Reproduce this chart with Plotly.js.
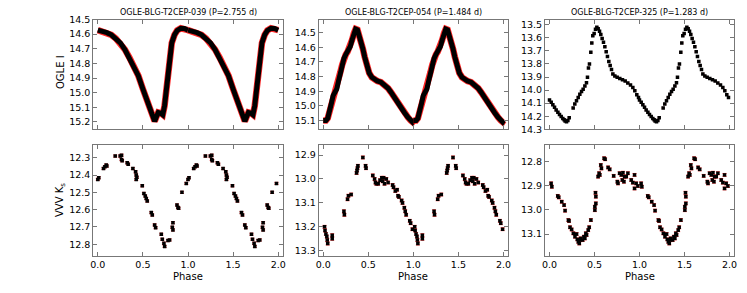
<!DOCTYPE html>
<html>
<head>
<meta charset="utf-8">
<script src="https://cdn.plot.ly/plotly-3.0.1.min.js"></script>
<style>html,body{margin:0;padding:0;background:#fff;}#chart{width:747px;height:293px;}</style>
</head>
<body>
<div id="chart"></div>
<script>
// ---------- DATA (one pulsation cycle each; the chart shows phase 0..2) ----------
const titles = ["OGLE-BLG-T2CEP-039 (P=2.755 d)", "OGLE-BLG-T2CEP-054 (P=1.484 d)", "OGLE-BLG-T2CEP-325 (P=1.283 d)"];

// OGLE I light curves
const i039Phase = [0.00,0.05,0.10,0.15,0.20,0.25,0.30,0.35,0.40,0.45,0.50,0.55,0.58,0.61,0.63,0.65,0.67,0.70,0.72,0.74,0.76,0.78,0.80,0.82,0.85,0.88,0.92,0.96];
const i039Mag   = [14.573,14.580,14.590,14.605,14.630,14.660,14.705,14.760,14.820,14.885,14.975,15.060,15.110,15.170,15.195,15.165,15.135,15.140,15.150,15.090,14.980,14.850,14.730,14.660,14.605,14.575,14.560,14.562];

const i054Phase = [0.00,0.03,0.05,0.07,0.09,0.11,0.13,0.15,0.17,0.19,0.21,0.23,0.25,0.27,0.30,0.32,0.34,0.36,0.38,0.40,0.42,0.44,0.46,0.48,0.51,0.54,0.57,0.60,0.64,0.68,0.72,0.75,0.79,0.83,0.86,0.90,0.94,0.97,0.99];
const i054Mag   = [15.100,15.100,15.085,15.045,14.985,14.930,14.905,14.885,14.830,14.770,14.720,14.675,14.650,14.630,14.595,14.550,14.505,14.475,14.480,14.515,14.560,14.610,14.665,14.720,14.775,14.805,14.820,14.830,14.838,14.855,14.880,14.905,14.945,14.980,15.010,15.045,15.078,15.100,15.110];

const i325Phase = [0.000,0.019,0.037,0.056,0.074,0.093,0.111,0.130,0.148,0.163,0.174,0.189,0.204,0.219,0.263,0.281,0.300,0.319,0.337,0.356,0.374,0.393,0.411,0.422,0.433,0.444,0.459,0.470,0.481,0.496,0.511,0.526,0.541,0.556,0.570,0.585,0.600,0.615,0.630,0.644,0.659,0.674,0.689,0.704,0.726,0.752,0.781,0.811,0.841,0.870,0.900,0.926,0.948,0.970,0.989];
const i325Mag   = [14.076,14.094,14.112,14.132,14.152,14.169,14.187,14.202,14.217,14.227,14.237,14.242,14.232,14.212,14.137,14.107,14.081,14.056,14.031,14.011,13.994,13.969,13.944,13.901,13.831,13.801,13.711,13.640,13.585,13.568,13.535,13.520,13.530,13.550,13.575,13.605,13.635,13.668,13.706,13.743,13.781,13.811,13.843,13.876,13.893,13.901,13.911,13.921,13.931,13.946,13.961,13.981,14.006,14.036,14.056];

// VVV Ks light curves
const k039Phase = [0.000,0.011,0.063,0.078,0.093,0.100,0.193,0.248,0.263,0.263,0.270,0.326,0.337,0.389,0.419,0.426,0.433,0.426,0.493,0.511,0.526,0.537,0.548,0.593,0.604,0.630,0.641,0.704,0.715,0.733,0.741,0.778,0.796,0.826,0.833,0.833,0.878,0.889,0.896,0.933,0.981];
const k039Mag   = [12.425,12.415,12.362,12.352,12.342,12.348,12.290,12.290,12.285,12.310,12.317,12.329,12.337,12.362,12.381,12.400,12.413,12.425,12.462,12.506,12.521,12.535,12.550,12.617,12.631,12.688,12.704,12.742,12.771,12.794,12.813,12.779,12.775,12.702,12.717,12.675,12.573,12.587,12.592,12.500,12.448];

const k054Phase = [0.015,0.020,0.030,0.040,0.045,0.050,0.100,0.100,0.230,0.235,0.270,0.280,0.310,0.370,0.375,0.380,0.385,0.440,0.470,0.475,0.550,0.570,0.580,0.590,0.610,0.630,0.650,0.660,0.670,0.680,0.700,0.720,0.770,0.780,0.800,0.820,0.830,0.840,0.870,0.880,0.900,0.910,0.920,0.960,0.970,0.990];
const k054Mag   = [13.200,13.215,13.230,13.240,13.255,13.270,13.235,13.250,13.135,13.150,13.085,13.070,13.065,12.975,12.965,12.955,12.945,12.910,12.945,12.955,12.985,13.000,13.015,13.020,13.020,13.005,12.995,13.010,12.995,13.020,13.000,13.015,13.025,13.035,13.050,13.045,13.070,13.075,13.090,13.100,13.120,13.135,13.150,13.175,13.185,13.210];

const k325Phase = [0.018,0.026,0.092,0.103,0.136,0.162,0.173,0.210,0.217,0.228,0.246,0.265,0.283,0.301,0.309,0.320,0.338,0.346,0.331,0.368,0.382,0.393,0.404,0.412,0.430,0.441,0.460,0.504,0.504,0.515,0.515,0.511,0.540,0.551,0.559,0.570,0.577,0.607,0.618,0.651,0.669,0.713,0.754,0.761,0.779,0.798,0.816,0.835,0.809,0.827,0.853,0.871,0.908,0.926,0.945,0.945,0.963,0.982];
const k325Mag   = [12.890,12.904,12.942,12.948,12.966,12.980,13.003,13.042,13.046,13.072,13.081,13.097,13.111,13.100,13.122,13.132,13.125,13.118,13.139,13.125,13.111,13.118,13.097,13.104,13.084,13.072,13.042,12.987,13.001,12.973,12.945,12.929,12.862,12.848,12.855,12.814,12.828,12.786,12.790,12.824,12.832,12.859,12.883,12.890,12.848,12.855,12.846,12.862,12.876,12.883,12.862,12.848,12.876,12.887,12.855,12.911,12.890,12.901];

const kErr = 0.006;

// ---------- helpers ----------
function twoCycles(ph){ return ph.concat(ph.map(p => p + 1)); }
function twice(v){ return v.concat(v); }

const FONT = "DejaVu Sans, Liberation Sans, sans-serif";
const traces = [];

function denseCurve(ph, mag, xa, ya){
  // separate cycles so the line is not joined across phase 1
  [0,1].forEach(c => {
    const x = ph.map(p => p + c).concat([ph[0] + c + 1]);
    const y = mag.concat([mag[0]]);
    traces.push({x:x, y:y, xaxis:xa, yaxis:ya, mode:'lines', line:{color:'rgba(255,0,0,0.85)', width:6.5}, hoverinfo:'skip', showlegend:false});
    traces.push({x:x, y:y, xaxis:xa, yaxis:ya, mode:'lines', line:{color:'#000', width:5}, showlegend:false});
  });
}
denseCurve(i039Phase, i039Mag, 'x', 'y');
denseCurve(i054Phase, i054Mag, 'x2', 'y2');

traces.push({x:twoCycles(i325Phase), y:twice(i325Mag), xaxis:'x3', yaxis:'y3', mode:'markers',
  error_y:{type:'constant', value:0.005, color:'rgba(255,30,30,0.6)', thickness:1, width:1.5},
  marker:{color:'#000', size:3.5, symbol:'square'}, showlegend:false});

function kTrace(ph, mag, xa, ya){
  traces.push({x:twoCycles(ph), y:twice(mag), xaxis:xa, yaxis:ya, mode:'markers',
    error_y:{type:'constant', value:kErr, color:'rgba(255,30,30,0.85)', thickness:1, width:2},
    marker:{color:'#000', size:3.5, symbol:'square'}, showlegend:false});
}
kTrace(k039Phase, k039Mag, 'x4', 'y4');
kTrace(k054Phase, k054Mag, 'x5', 'y5');
kTrace(k325Phase, k325Mag, 'x6', 'y6');

// ---------- layout ----------
const W = 747, H = 293;
const colPx = [[93.3,282.7],[318.7,508],[545,734]];
const rowPx = [[19.5,129.3],[145,256]];
const xDom = colPx.map(c => [c[0]/W, c[1]/W]);
const yDom = rowPx.map(r => [1 - r[1]/H, 1 - r[0]/H]);
const yRanges = [[15.25,14.5],[15.16,14.41],[14.30,13.46],[12.868,12.226],[13.322,12.858],[13.191,12.731]];

function xAxis(i, row){
  return {domain:xDom[i], range:[-0.05,2.05], anchor:'y'+(row*3+i+1 === 1 ? '' : row*3+i+1),
    showline:true, mirror:'ticks', linecolor:'#777', linewidth:1, ticks:'inside', ticklen:4, tickcolor:'#777',
    tickvals:[0,0.5,1,1.5,2], tickformat:'.1f', showticklabels: row === 1, showgrid:false, zeroline:false,
    tickfont:{family:FONT, size:9.5, color:'#000'}, fixedrange:true};
}
function yAxis(i, row){
  const k = row*3+i;
  return {domain:yDom[row], range:yRanges[k], anchor:'x'+(k+1 === 1 ? '' : k+1),
    showline:true, mirror:'ticks', linecolor:'#777', linewidth:1, ticks:'inside', ticklen:4, tickcolor:'#777',
    dtick:0.1, tick0:0, tickformat:'.1f', showgrid:false, zeroline:false,
    tickfont:{family:FONT, size:9.5, color:'#000'}, fixedrange:true};
}

const layout = {width:W, height:H, margin:{l:0,r:0,t:0,b:0}, paper_bgcolor:'#fff', plot_bgcolor:'#fff',
  font:{family:FONT, color:'#000'}, showlegend:false, annotations:[]};
for (let row=0; row<2; row++){
  for (let i=0; i<3; i++){
    const k = row*3+i+1;
    layout['xaxis'+(k===1?'':k)] = xAxis(i,row);
    layout['yaxis'+(k===1?'':k)] = yAxis(i,row);
  }
}
titles.forEach((t,i) => {
  layout.annotations.push({text:t, xref:'paper', yref:'paper', x:(xDom[i][0]+xDom[i][1])/2, y:1-13/H,
    xanchor:'center', yanchor:'middle', showarrow:false, font:{family:FONT, size:8, color:'#000'}});
  layout.annotations.push({text:'Phase', xref:'paper', yref:'paper', x:(xDom[i][0]+xDom[i][1])/2, y:1-276/H,
    xanchor:'center', yanchor:'middle', showarrow:false, font:{family:FONT, size:10, color:'#000'}});
});
layout.annotations.push({text:'OGLE I', xref:'paper', yref:'paper', x:60/W, y:1-72/H, textangle:-90,
  xanchor:'center', yanchor:'middle', showarrow:false, font:{family:FONT, size:10, color:'#000'}});
layout.annotations.push({text:'VVV K<sub>s</sub>', xref:'paper', yref:'paper', x:60/W, y:1-200/H, textangle:-90,
  xanchor:'center', yanchor:'middle', showarrow:false, font:{family:FONT, size:10, color:'#000'}});

Plotly.newPlot('chart', traces, layout, {displayModeBar:false, staticPlot:true});
</script>
</body>
</html>
